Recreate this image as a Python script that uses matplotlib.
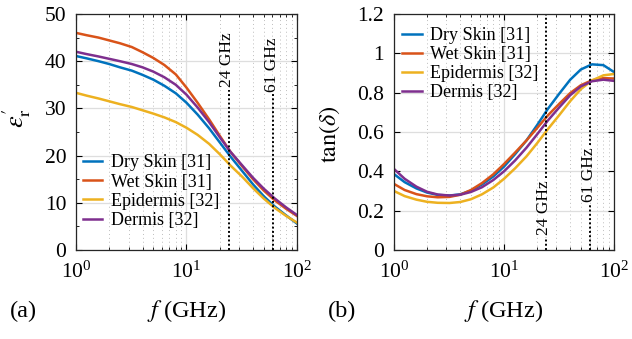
import matplotlib
matplotlib.use("Agg")
import matplotlib.pyplot as plt
from matplotlib.ticker import LogLocator, MultipleLocator, NullFormatter, NullLocator

plt.rcParams['font.family'] = ['Liberation Serif', 'DejaVu Serif']
plt.rcParams['mathtext.fontset'] = 'stix'

freq = [1, 1.25, 1.6, 2, 2.5, 3.2, 4, 5, 6.3, 8, 10, 12.6, 16, 20, 25, 32, 40, 50, 63, 80, 100]
labels = ["Dry Skin [31]", "Wet Skin [31]", "Epidermis [32]", "Dermis [32]"]
colors = ["#0072BD", "#D95319", "#EDB120", "#7E2F8E"]

eps_dry = [41.1, 40.6, 40.0, 39.4, 38.7, 38.0, 37.1, 36.1, 34.8, 33.2, 31.2, 28.7, 25.8, 22.8, 19.8, 16.7, 13.9, 11.4, 9.2, 7.3, 5.6]
eps_wet = [46.0, 45.5, 45.0, 44.4, 43.8, 43.0, 41.9, 40.7, 39.2, 37.2, 34.4, 31.2, 27.7, 24.2, 20.8, 17.7, 15.0, 12.6, 10.5, 8.7, 7.2]
eps_epi = [33.3, 32.7, 32.1, 31.5, 30.9, 30.3, 29.6, 28.9, 28.1, 27.1, 25.9, 24.4, 22.5, 20.3, 17.9, 15.5, 13.1, 10.9, 8.9, 7.2, 5.8]
eps_der = [42.0, 41.5, 41.0, 40.5, 40.0, 39.4, 38.7, 37.8, 36.6, 35.0, 32.9, 30.2, 27.1, 23.9, 20.8, 17.9, 15.3, 13.0, 10.9, 9.0, 7.4]

tan_dry = [0.386, 0.345, 0.313, 0.292, 0.280, 0.277, 0.283, 0.302, 0.333, 0.374, 0.424, 0.487, 0.557, 0.635, 0.717, 0.797, 0.866, 0.918, 0.944, 0.940, 0.905]
tan_wet = [0.336, 0.305, 0.284, 0.273, 0.268, 0.270, 0.281, 0.305, 0.340, 0.385, 0.437, 0.495, 0.557, 0.620, 0.684, 0.745, 0.798, 0.838, 0.863, 0.874, 0.872]
tan_epi = [0.300, 0.274, 0.256, 0.245, 0.240, 0.239, 0.244, 0.258, 0.283, 0.318, 0.362, 0.415, 0.476, 0.543, 0.614, 0.688, 0.757, 0.818, 0.862, 0.888, 0.895]
tan_der = [0.412, 0.362, 0.322, 0.296, 0.282, 0.277, 0.281, 0.295, 0.319, 0.356, 0.400, 0.455, 0.520, 0.588, 0.658, 0.727, 0.787, 0.832, 0.858, 0.866, 0.860]

marker_freqs = [24, 61]
marker_labels = ["24 GHz", "61 GHz"]

W, H = 632, 339
fig = plt.figure(figsize=(W / 100, H / 100), dpi=100)

def px_axes(x0, x1, y0, y1):
    return fig.add_axes([x0 / W, 1 - y1 / H, (x1 - x0) / W, (y1 - y0) / H])

axA = px_axes(76, 297, 14, 250)
axB = px_axes(394, 614, 14, 250)

FS_TICK = 15.5
FS_LAB = 17.5

def style(ax, ymax, ymajor, yminor):
    ax.set_xscale('log')
    ax.set_xlim(1, 100)
    ax.set_ylim(0, ymax)
    ax.yaxis.set_major_locator(MultipleLocator(ymajor))
    if yminor:
        ax.yaxis.set_minor_locator(MultipleLocator(yminor))
    else:
        ax.yaxis.set_minor_locator(NullLocator())
    ax.xaxis.set_major_locator(LogLocator(base=10, numticks=5))
    ax.xaxis.set_minor_locator(LogLocator(base=10, subs=range(2, 10), numticks=20))
    ax.xaxis.set_minor_formatter(NullFormatter())
    ax.grid(True, which='major', color='#dedede', linewidth=0.9, linestyle='-')
    ax.xaxis.grid(True, which='minor', color='#bdbdbd', linewidth=0.7, linestyle=(0, (1, 3)))
    ax.set_axisbelow(True)
    ax.tick_params(which='both', direction='in', top=True, right=True, labelsize=FS_TICK)
    ax.tick_params(axis='x', which='major', pad=8)
    ax.tick_params(axis='y', which='major', pad=7)
    ax.tick_params(which='major', length=4, width=0.8)
    ax.tick_params(which='minor', length=2.5, width=0.6)
    for s in ax.spines.values():
        s.set_linewidth(0.9)
        s.set_color('#262626')
    ax.set_xlabel('$f$ (GHz)', fontsize=FS_LAB)
    ax.xaxis.set_label_coords(0.5, (250 - 311) / 236)
    ax.xaxis.label.set_va('center')

style(axA, 50, 10, 5)
style(axB, 1.2, 0.2, None)
axB.set_yticks([0, 0.2, 0.4, 0.6, 0.8, 1.0, 1.2])
axB.set_yticklabels(['0', '0.2', '0.4', '0.6', '0.8', '1', '1.2'])

for ys, c, l in zip([eps_dry, eps_wet, eps_epi, eps_der], colors, labels):
    axA.plot(freq, ys, color=c, linewidth=1.8, label=l, solid_joinstyle='round')
for ys, c, l in zip([tan_dry, tan_wet, tan_epi, tan_der], colors, labels):
    axB.plot(freq, ys, color=c, linewidth=1.8, label=l, solid_joinstyle='round')

dot = (0, (1, 1.2))
gapA = [(34.0, 46.6), (33.2, 45.4)]
for fm, lab, (lo, hi) in zip(marker_freqs, marker_labels, gapA):
    axA.plot([fm, fm], [0, lo], color='black', linestyle=dot, linewidth=1.4)
    axA.text(fm * 0.97, (lo + hi) / 2, lab, rotation=90, ha='center', va='center', fontsize=12.5)
gapB = [(0.065, 0.365), (0.235, 0.535)]
for fm, lab, (lo, hi) in zip(marker_freqs, marker_labels, gapB):
    axB.plot([fm, fm], [0, lo], color='black', linestyle=dot, linewidth=1.4)
    axB.plot([fm, fm], [hi, 1.2], color='black', linestyle=dot, linewidth=1.4)
    axB.text(fm * 0.97, (lo + hi) / 2, lab, rotation=90, ha='center', va='center', fontsize=12.5)

legkw = dict(frameon=False, fontsize=13, handlelength=1.1, handletextpad=0.45,
             labelspacing=0.12, borderaxespad=0.0, borderpad=0.0)
axA.legend(loc='upper left', bbox_to_anchor=(0.03, 0.405), **legkw)
axB.legend(loc='upper left', bbox_to_anchor=(0.035, 0.945), **legkw)

axA.set_ylabel(r"$\epsilon_{\mathrm{r}}^{\prime}$", fontsize=19)
axA.yaxis.set_label_coords((17 - 76) / 221, (250 - 118) / 236)
axB.set_ylabel(r"$\tan(\delta)$", fontsize=FS_LAB)
axB.yaxis.set_label_coords((330 - 394) / 220, (250 - 134) / 236)
for ax in (axA, axB):
    ax.yaxis.label.set_va('center')

fig.text(10 / W, 1 - 311 / H, '(a)', fontsize=FS_LAB, va='center', ha='left')
fig.text(328 / W, 1 - 311 / H, '(b)', fontsize=FS_LAB, va='center', ha='left')

fig.savefig('out.png', dpi=100)
